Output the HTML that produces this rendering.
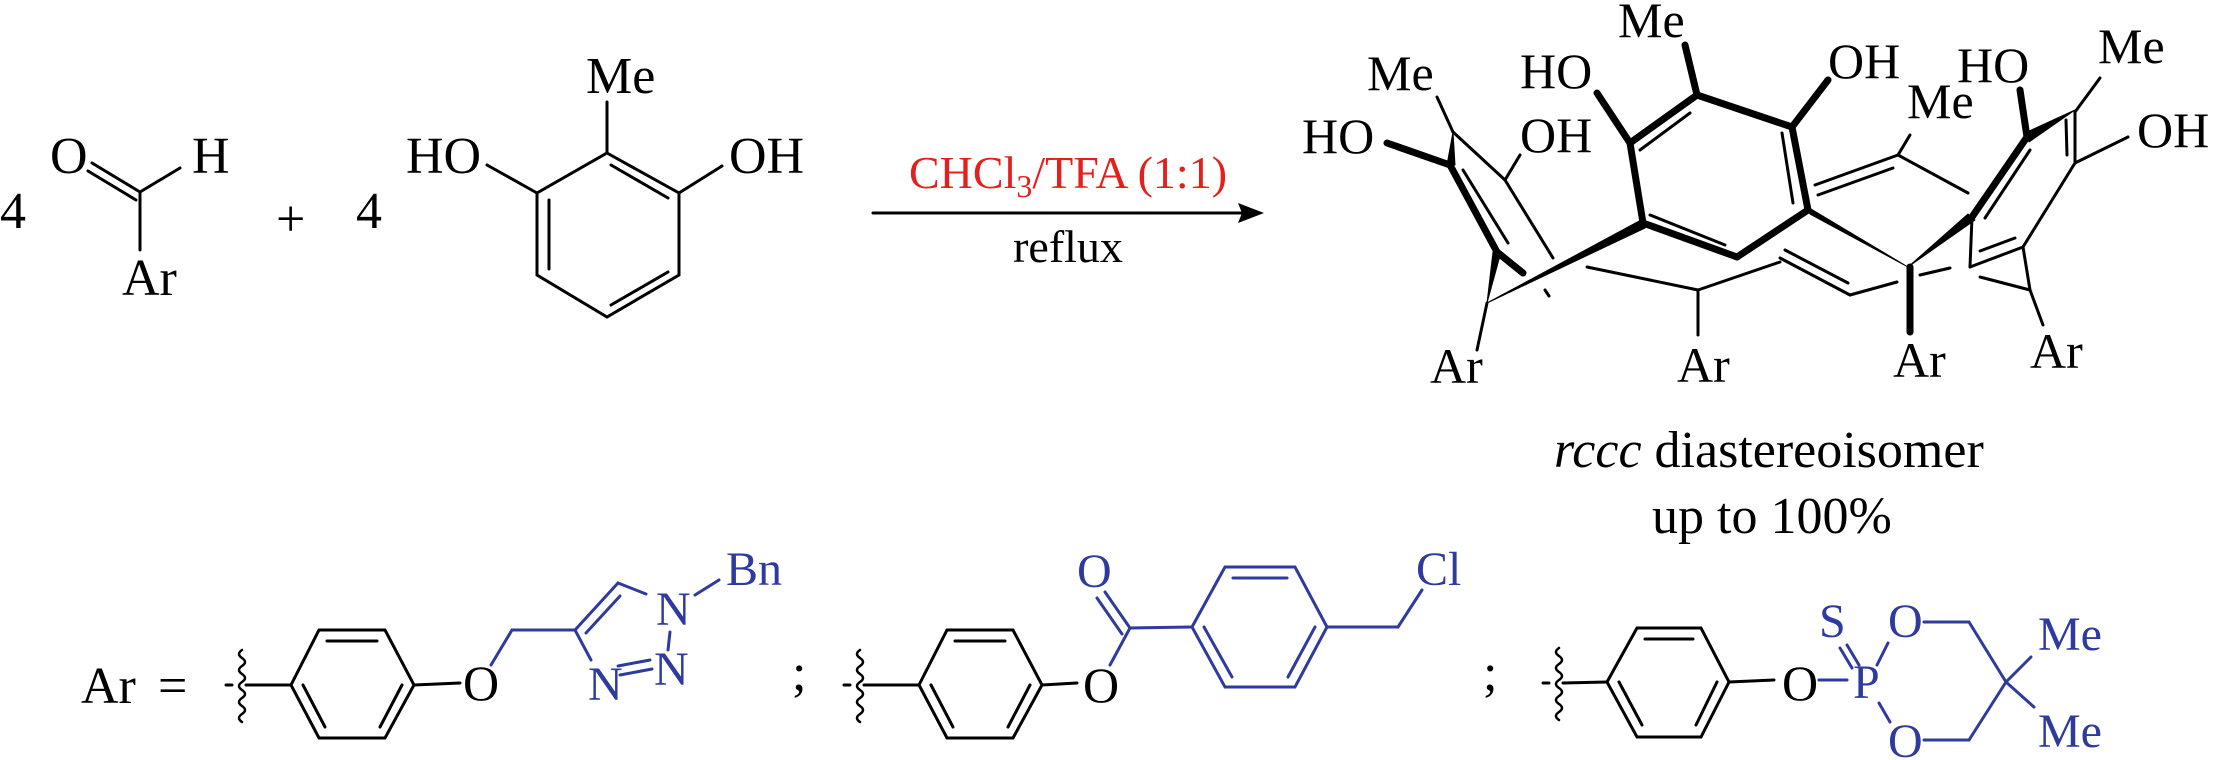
<!DOCTYPE html>
<html><head><meta charset="utf-8"><style>
html,body{margin:0;padding:0;background:#fff;}
svg{display:block;}
text{font-family:"Liberation Serif",serif;}
</style></head><body>
<svg width="2213" height="760" viewBox="0 0 2213 760" xmlns="http://www.w3.org/2000/svg">
<defs>
<path id="sq" d="M0,-35 q-6,4 0,8 q6,4 0,8 q-6,4 0,8 q6,4 0,8 q-6,4 0,8 q6,4 0,8 q-6,4 0,8 q6,4 0,8 q-6,4 0,8" fill="none" stroke="#000" stroke-width="2.5"/>
</defs>
<g font-size="52" fill="#000">
<!-- Reactant 1 -->
<text x="0" y="228">4</text>
<text x="50" y="173">O</text>
<text x="192" y="173">H</text>
<text x="122" y="295">Ar</text>
<text x="276" y="236">+</text>
<text x="356" y="228">4</text>
<!-- Resorcinol -->
<text x="586" y="93">Me</text>
<text x="406" y="173">HO</text>
<text x="729" y="173">OH</text>
</g>
<g stroke="#000" stroke-width="3" fill="none" stroke-linecap="round">
<line x1="92" y1="163" x2="140" y2="192"/><line x1="88" y1="171" x2="136" y2="200"/>
<line x1="140" y1="192" x2="180" y2="168"/>
<line x1="140" y1="192" x2="140" y2="250"/>
<polygon points="607,153 679,193 679,275 607,317 537,275 537,193"/>
<line x1="611" y1="165" x2="668" y2="198"/>
<line x1="549" y1="200" x2="549" y2="269"/>
<line x1="611" y1="305" x2="668" y2="272"/>
<line x1="607" y1="153" x2="607" y2="102"/>
<line x1="537" y1="193" x2="487" y2="165"/>
<line x1="679" y1="193" x2="722" y2="166"/>
<!-- arrow -->
<line x1="873" y1="213" x2="1250" y2="213"/>
</g>
<polygon points="1264,213 1238,203 1242,213 1238,223" fill="#000"/>
<text x="1068" y="188" font-size="46" fill="#e3201c" text-anchor="middle">CHCl<tspan font-size="32" dy="9">3</tspan><tspan dy="-9">/TFA (1:1)</tspan></text>
<text x="1068" y="262" font-size="46" text-anchor="middle">reflux</text>

<!-- Product -->
<g font-size="50" fill="#000">
<text x="1618" y="37">Me</text>
<text x="1367" y="90">Me</text>
<text x="1520" y="88">HO</text>
<text x="1828" y="78">OH</text>
<text x="1957" y="82">HO</text>
<text x="2098" y="63">Me</text>
<text x="1302" y="153">HO</text>
<text x="1520" y="152">OH</text>
<text x="1907" y="118">Me</text>
<text x="2137" y="147">OH</text>
<text x="1430" y="383">Ar</text>
<text x="1677" y="382">Ar</text>
<text x="1893" y="377">Ar</text>
<text x="2030" y="368">Ar</text>
</g>
<g stroke="#000" fill="none" stroke-linecap="round" stroke-linejoin="round">
<!-- bold front central ring -->
<g stroke-width="7">
<line x1="1685" y1="45" x2="1697" y2="95"/>
<line x1="1697" y1="95" x2="1630" y2="143"/>
<line x1="1697" y1="95" x2="1792" y2="127"/>
<line x1="1630" y1="143" x2="1597" y2="93"/>
<line x1="1630" y1="143" x2="1643" y2="223"/>
<line x1="1643" y1="223" x2="1737" y2="257"/>
<line x1="1737" y1="257" x2="1808" y2="210"/>
<line x1="1792" y1="127" x2="1808" y2="210"/>
<line x1="1792" y1="127" x2="1828" y2="80"/>
<line x1="1450" y1="165" x2="1497" y2="252"/>
<line x1="1497" y1="252" x2="1523" y2="273"/>
<line x1="1387" y1="143" x2="1450" y2="165"/>
<line x1="2027" y1="137" x2="2020" y2="90"/>
<line x1="2027" y1="137" x2="1972" y2="217"/>
<line x1="1910" y1="267" x2="1910" y2="332"/>
</g>
<g stroke-width="3">
<line x1="1640" y1="150" x2="1690" y2="113"/>
<line x1="1650" y1="215" x2="1725" y2="245"/>
<line x1="1782" y1="133" x2="1793" y2="203"/>
<line x1="1463" y1="170" x2="1508" y2="243"/>
<line x1="1437" y1="97" x2="1453" y2="132"/>
<line x1="1453" y1="132" x2="1505" y2="180"/>
<line x1="1520" y1="155" x2="1505" y2="180"/>
<line x1="1505" y1="180" x2="1553" y2="258"/>
<line x1="1477" y1="350" x2="1487" y2="303"/>
<line x1="1587" y1="267" x2="1698" y2="290"/>
<line x1="1698" y1="290" x2="1698" y2="335"/>
<line x1="1698" y1="290" x2="1780" y2="262"/>
<line x1="1780" y1="258" x2="1850" y2="295"/>
<line x1="1785" y1="250" x2="1848" y2="283"/>
<line x1="1850" y1="295" x2="1897" y2="282"/>
<line x1="1815" y1="185" x2="1898" y2="155"/>
<line x1="1818" y1="195" x2="1893" y2="168"/>
<line x1="1898" y1="155" x2="1968" y2="193"/>
<line x1="1898" y1="155" x2="1910" y2="135"/>
<line x1="2100" y1="78" x2="2075" y2="112"/>
<line x1="2075" y1="112" x2="2075" y2="163"/>
<line x1="2066" y1="120" x2="2067" y2="155"/>
<line x1="2075" y1="163" x2="2128" y2="137"/>
<line x1="2075" y1="163" x2="2023" y2="247"/>
<line x1="2023" y1="247" x2="1970" y2="267"/>
<line x1="2015" y1="238" x2="1980" y2="251"/>
<line x1="1970" y1="267" x2="1972" y2="217"/>
<line x1="1985" y1="218" x2="2030" y2="150"/>
<line x1="2023" y1="247" x2="2030" y2="290"/>
<line x1="2030" y1="290" x2="1980" y2="277"/>
<line x1="2030" y1="290" x2="2043" y2="325"/>
<line x1="1920" y1="275" x2="1950" y2="268"/>
<line x1="1545" y1="290" x2="1549" y2="296"/>
</g>
<!-- wedges -->
<polygon points="1487,303 1643,219 1645,228" fill="#000" stroke-width="1"/>
<polygon points="1487,303 1493,252 1501,252" fill="#000" stroke-width="1"/>
<polygon points="1453,132 1447,165 1455,165" fill="#000" stroke-width="1"/>
<polygon points="1908,267 1806,206 1810,214" fill="#000" stroke-width="1"/>
<polygon points="1908,267 1968,214 1975,220" fill="#000" stroke-width="1"/>
<polygon points="2027,132 2075,110 2029,142" fill="#000" stroke-width="1"/>
</g>
<text x="1554" y="467" font-size="52"><tspan font-style="italic">rccc</tspan> diastereoisomer</text>
<text x="1652" y="533" font-size="52">up to 100%</text>

<!-- Ar definitions -->
<g font-size="52"><text x="81" y="703">Ar</text><text x="158" y="703">=</text>
<text x="792" y="690">;</text><text x="1483" y="690">;</text></g>
<g stroke="#000" stroke-width="3" fill="none" stroke-linecap="round">
<!-- ring 1 -->
<use href="#sq" x="242" y="685"/>
<line x1="226" y1="685" x2="232" y2="685"/>
<line x1="246" y1="685" x2="291" y2="685"/>
<polygon points="291,685 319,630 385,630 414,685 385,738 319,738"/>
<line x1="327" y1="641" x2="377" y2="641"/>
<line x1="303" y1="685" x2="325" y2="727"/>
<line x1="402" y1="685" x2="380" y2="727"/>
<line x1="414" y1="685" x2="460" y2="683"/>
<!-- ring 2 -->
<use href="#sq" x="860" y="685"/>
<line x1="844" y1="685" x2="850" y2="685"/>
<line x1="864" y1="685" x2="919" y2="685"/>
<polygon points="919,685 947,630 1013,630 1042,685 1013,738 947,738"/>
<line x1="955" y1="641" x2="1005" y2="641"/>
<line x1="931" y1="685" x2="953" y2="727"/>
<line x1="1030" y1="685" x2="1008" y2="727"/>
<line x1="1042" y1="685" x2="1077" y2="683"/>
<!-- ring 3 -->
<use href="#sq" x="1559" y="683"/>
<line x1="1543" y1="683" x2="1549" y2="683"/>
<line x1="1563" y1="683" x2="1607" y2="682"/>
<polygon points="1607,682 1637,628 1701,628 1729,682 1701,737 1637,737"/>
<line x1="1645" y1="639" x2="1693" y2="639"/>
<line x1="1619" y1="682" x2="1642" y2="725"/>
<line x1="1717" y1="682" x2="1696" y2="725"/>
<line x1="1729" y1="682" x2="1774" y2="680"/>
</g>
<g font-size="50"><text x="463" y="700">O</text><text x="1083" y="702">O</text><text x="1782" y="700">O</text></g>

<!-- blue parts -->
<g stroke="#2f3a9e" stroke-width="3" fill="none" stroke-linecap="round">
<line x1="491" y1="665" x2="512" y2="630"/>
<line x1="512" y1="630" x2="575" y2="630"/>
<line x1="575" y1="630" x2="618" y2="583"/>
<line x1="586" y1="633" x2="620" y2="596"/>
<line x1="575" y1="630" x2="591" y2="660"/>
<line x1="618" y1="583" x2="646" y2="594"/>
<line x1="670" y1="632" x2="668" y2="650"/>
<line x1="695" y1="595" x2="719" y2="580"/>
<line x1="620" y1="675" x2="652" y2="669"/>
<line x1="618" y1="666" x2="650" y2="660"/>
<!-- ester -->
<line x1="1105" y1="592" x2="1130" y2="628"/>
<line x1="1097" y1="598" x2="1122" y2="634"/>
<line x1="1130" y1="628" x2="1110" y2="665"/>
<line x1="1130" y1="628" x2="1192" y2="627"/>
<polygon points="1192,627 1225,567 1295,567 1327,627 1295,687 1225,687"/>
<line x1="1233" y1="578" x2="1287" y2="578"/>
<line x1="1204" y1="627" x2="1232" y2="677"/>
<line x1="1315" y1="627" x2="1288" y2="677"/>
<line x1="1327" y1="627" x2="1398" y2="627"/>
<line x1="1398" y1="627" x2="1422" y2="590"/>
<!-- phosphorus -->
<line x1="1819" y1="680" x2="1847" y2="680"/>
<line x1="1840" y1="648" x2="1852" y2="668"/>
<line x1="1847" y1="645" x2="1859" y2="665"/>
<line x1="1877" y1="665" x2="1888" y2="643"/>
<line x1="1879" y1="703" x2="1890" y2="722"/>
<line x1="1924" y1="622" x2="1969" y2="622"/>
<line x1="1969" y1="622" x2="2006" y2="682"/>
<line x1="2006" y1="682" x2="1969" y2="740"/>
<line x1="1969" y1="740" x2="1924" y2="740"/>
<line x1="2006" y1="682" x2="2031" y2="657"/>
<line x1="2006" y1="682" x2="2034" y2="707"/>
</g>
<g font-size="48" fill="#2f3a9e">
<text x="726" y="585">Bn</text>
<text x="656" y="625">N</text>
<text x="654" y="685">N</text>
<text x="588" y="700">N</text>
<text x="1077" y="587">O</text>
<text x="1416" y="585">Cl</text>
<text x="1819" y="637">S</text>
<text x="1853" y="698">P</text>
<text x="1888" y="637">O</text>
<text x="1888" y="757">O</text>
<text x="2038" y="650">Me</text>
<text x="2038" y="747">Me</text>
</g>
</svg>
</body></html>
